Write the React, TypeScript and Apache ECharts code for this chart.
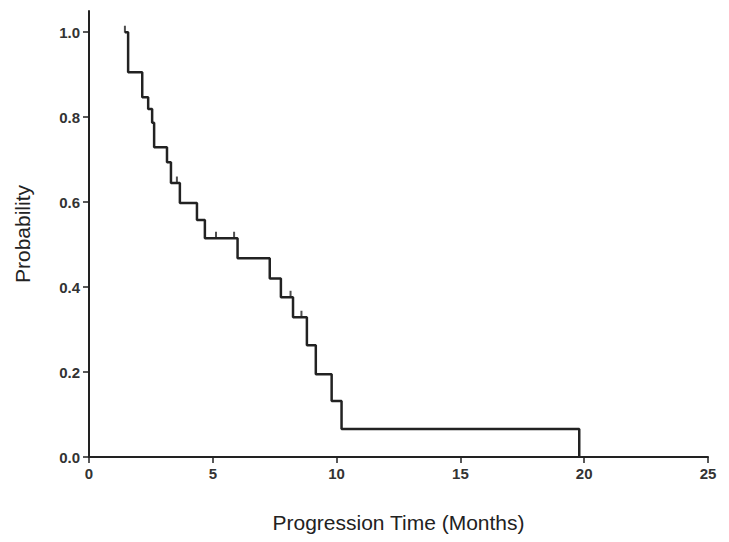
import React, { useEffect, useRef } from "react";
import * as echarts from "echarts";

const eventTimes = [1.45, 1.58, 2.15, 2.39, 2.55, 2.63, 3.15, 3.31, 3.67, 4.36, 4.68, 6.0, 7.3, 7.75, 8.24, 8.8, 9.16, 9.8, 10.2, 19.8];
const survival = [1.0, 0.906, 0.847, 0.819, 0.787, 0.729, 0.694, 0.645, 0.598, 0.558, 0.515, 0.468, 0.42, 0.376, 0.329, 0.263, 0.195, 0.132, 0.066, 0];

const censorTimes = [1.45, 3.55, 5.13, 5.86, 8.14, 8.58];
const censorValues = [1.0, 0.645, 0.515, 0.515, 0.376, 0.329];

const xTicks = [0, 5, 10, 15, 20, 25];
const yTicks = [0, 0.2, 0.4, 0.6, 0.8, 1.0];

const FONT = "'Liberation Sans', Arial, Helvetica, sans-serif";
const INK = "#222";

export default function App() {
  const ref = useRef<HTMLDivElement>(null);

  useEffect(() => {
    if (!ref.current) return;
    const chart = echarts.init(ref.current, undefined, { renderer: "svg" });
    chart.setOption({
      animation: false,
      backgroundColor: "#fff",
      grid: { left: 89, right: 21, top: 11, bottom: 85 },
      xAxis: {
        type: "value",
        min: 0,
        max: 25,
        interval: 5,
        name: "Progression Time (Months)",
        nameLocation: "middle",
        nameGap: 55,
        nameTextStyle: { fontFamily: FONT, fontSize: 21, color: INK },
        splitLine: { show: false },
        axisLine: { show: true, lineStyle: { color: INK, width: 2 } },
        axisTick: { show: true, length: 6, lineStyle: { color: INK, width: 1.5 }, customValues: xTicks },
        axisLabel: {
          customValues: xTicks,
          fontFamily: FONT,
          fontSize: 15,
          fontWeight: "bold",
          color: "#333",
          margin: 9,
        },
      },
      yAxis: {
        type: "value",
        min: 0,
        max: 1.05,
        name: "Probability",
        nameLocation: "middle",
        nameGap: 56,
        nameRotate: 90,
        nameTextStyle: { fontFamily: FONT, fontSize: 21, color: INK },
        splitLine: { show: false },
        axisLine: { show: true, lineStyle: { color: INK, width: 2 } },
        axisTick: { show: true, length: 6, lineStyle: { color: INK, width: 1.5 }, customValues: yTicks },
        axisLabel: {
          customValues: yTicks,
          formatter: (v: number) => v.toFixed(1),
          fontFamily: FONT,
          fontSize: 15,
          fontWeight: "bold",
          color: "#333",
          margin: 9,
        },
      },
      series: [
        {
          type: "line",
          step: "end",
          data: eventTimes.map((t, i) => [t, survival[i]]),
          symbol: "none",
          lineStyle: { color: INK, width: 2.5 },
        },
        {
          type: "scatter",
          data: censorTimes.map((t, i) => [t, censorValues[i]]),
          symbol: "rect",
          symbolSize: [2, 7],
          symbolOffset: [0, -3],
          itemStyle: { color: INK },
        },
      ],
    });
    return () => chart.dispose();
  }, []);

  return <div ref={ref} style={{ width: 729, height: 542, position: "absolute", left: 0, top: 0 }} />;
}
